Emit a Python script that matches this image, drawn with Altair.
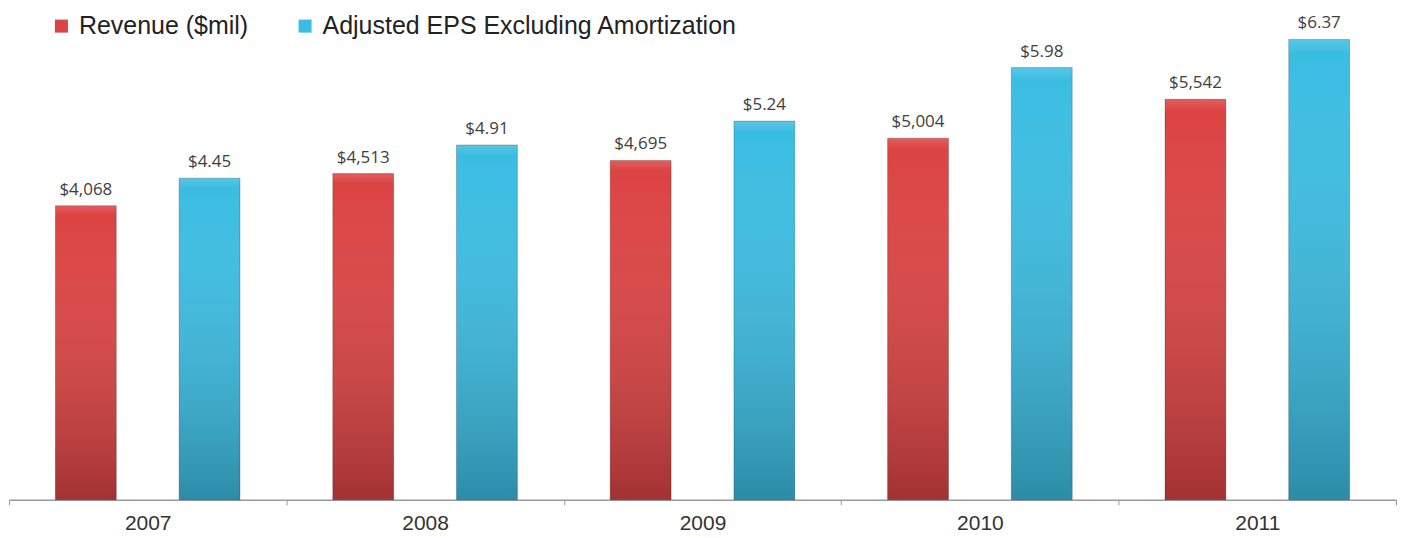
import altair as alt
import pandas as pd

years = ["2007", "2008", "2009", "2010", "2011"]
revenue = [4068, 4513, 4695, 5004, 5542]
eps = [4.45, 4.91, 5.24, 5.98, 6.37]
series_names = ["Revenue ($mil)", "Adjusted EPS Excluding Amortization"]
series_colors = ["#dc4343", "#3bbde2"]

rev_df = pd.DataFrame({"Year": years, "Value": revenue, "Series": series_names[0]})
eps_df = pd.DataFrame({"Year": years, "Value": eps, "Series": series_names[1]})

x_enc = alt.X(
    "Year:N",
    title=None,
    scale=alt.Scale(paddingInner=0, paddingOuter=0),
    axis=alt.Axis(
        labelAngle=0,
        labelFont="Liberation Sans",
        labelFontSize=21,
        labelColor="#333333",
        labelPadding=8,
        tickBand="extent",
        tickSize=5,
        tickColor="#999999",
        domainColor="#999999",
        domainWidth=1.5,
        grid=False,
    ),
)
xoff = alt.XOffset(
    "Series:N",
    scale=alt.Scale(domain=series_names, paddingInner=0.508, paddingOuter=0.375),
)
color_enc = alt.Color(
    "Series:N",
    scale=alt.Scale(domain=series_names, range=series_colors),
    legend=alt.Legend(
        title=None,
        orient="none",
        legendX=40,
        legendY=5,
        direction="horizontal",
        symbolType="square",
        symbolSize=170,
        symbolStrokeWidth=0,
        labelFont="Liberation Sans",
        labelFontSize=25,
        labelColor="#222222",
        labelOffset=5,
        columnPadding=44,
        labelLimit=600,
    ),
)

overlay_grad = alt.Gradient(
    gradient="linear",
    x1=0, x2=0, y1=0, y2=1,
    stops=[
        alt.GradientStop(offset=0, color="rgba(255,255,255,0.15)"),
        alt.GradientStop(offset=0.03, color="rgba(255,255,255,0.0)"),
        alt.GradientStop(offset=1, color="rgba(0,0,0,0.26)"),
    ],
)


def series_layer(df, dmax, fmt):
    y_enc = alt.Y("Value:Q", scale=alt.Scale(domain=[0, dmax], nice=False, zero=True), axis=None)
    base = alt.Chart(df).encode(x=x_enc, xOffset=xoff, y=y_enc)
    bars = base.mark_bar().encode(color=color_enc)
    shade = base.mark_bar(fill=overlay_grad, stroke="rgba(0,0,0,0.22)", strokeWidth=1)
    labels = base.mark_text(
        baseline="bottom", dy=-7, font="Open Sans", fontSize=17, color="#404040"
    ).encode(text=alt.Text("Value:Q", format=fmt))
    return alt.layer(bars, shade, labels)


rev_layer = series_layer(rev_df, 6800, "$,.0f")
eps_layer = series_layer(eps_df, 6.8, "$.2f")

chart = (
    alt.layer(rev_layer, eps_layer)
    .resolve_scale(y="independent")
    .properties(
        width=1389,
        height=492,
        background="white",
        padding={"left": 0, "top": 0, "right": 2, "bottom": 2},
    )
    .configure_view(strokeWidth=0, stroke="transparent")
)

chart.save("out.html", embed_options={"renderer": "svg", "actions": False})
